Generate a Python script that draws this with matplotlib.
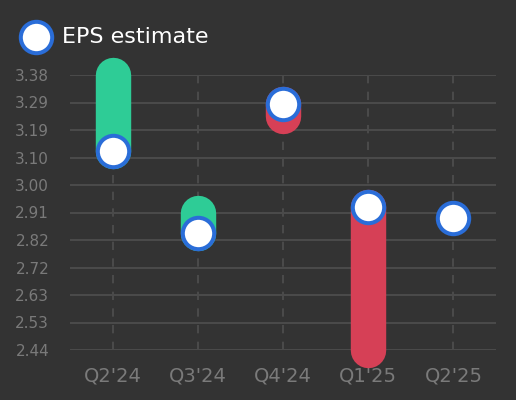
import matplotlib
matplotlib.use("Agg")
import matplotlib.pyplot as plt
from matplotlib.lines import Line2D
import numpy as np

categories = ["Q2'24", "Q3'24", "Q4'24", "Q1'25", "Q2'25"]
eps_estimate = [3.12, 2.84, 3.28, 2.93, 2.89]
eps_actual = [3.38, 2.91, 3.24, 2.44, None]
yticks = [2.44, 2.534, 2.628, 2.722, 2.816, 2.91, 3.004, 3.098, 3.192, 3.286, 3.38]

BG = "#333333"
GRID = "#4a4a4a"
GREEN = "#2ecc96"
RED = "#d64056"
BLUE = "#2a6dd8"
TICK = "#7a7a7a"

fig = plt.figure(figsize=(5.16, 4.0), dpi=100, facecolor=BG)
ax = fig.add_axes([70/516, 50/400, 426/516, 275/400], facecolor=BG)

x = np.arange(len(categories))
ax.set_xlim(-0.5, len(categories) - 0.5)
ax.set_ylim(min(yticks), max(yticks))

for v in yticks:
    ax.axhline(v, color=GRID, lw=1.5, zorder=1)
for xi in x:
    ax.axvline(xi, color=GRID, lw=1.5, ls=(0, (4, 4)), zorder=1)

BAR_W = 25.5
for xi, est, act in zip(x, eps_estimate, eps_actual):
    if act is None:
        continue
    col = GREEN if act >= est else RED
    ax.plot([xi, xi], [est, act], color=col, lw=BAR_W, solid_capstyle="round",
            zorder=3, clip_on=False)

ax.plot(x, eps_estimate, ls="none", marker="o", ms=22.6, mfc="white", mec=BLUE,
        mew=2.9, zorder=4, clip_on=False)

ax.set_xticks(x)
ax.set_xticklabels(categories)
ax.set_yticks(yticks)
ax.set_yticklabels([f"{v:.2f}" for v in yticks])
ax.tick_params(axis="x", length=0, pad=12, labelsize=14, labelcolor=TICK)
ax.tick_params(axis="y", length=0, pad=15, labelsize=11, labelcolor=TICK)
for s in ax.spines.values():
    s.set_visible(False)

fig.add_artist(Line2D([36/516], [1 - 37/400], marker="o", ms=22.6, mfc="white",
                      mec=BLUE, mew=2.9, transform=fig.transFigure))
fig.text(62/516, 1 - 37/400, "EPS estimate", color="white", fontsize=16,
         va="center", ha="left")

fig.savefig("out.png", dpi=100, facecolor=BG)
